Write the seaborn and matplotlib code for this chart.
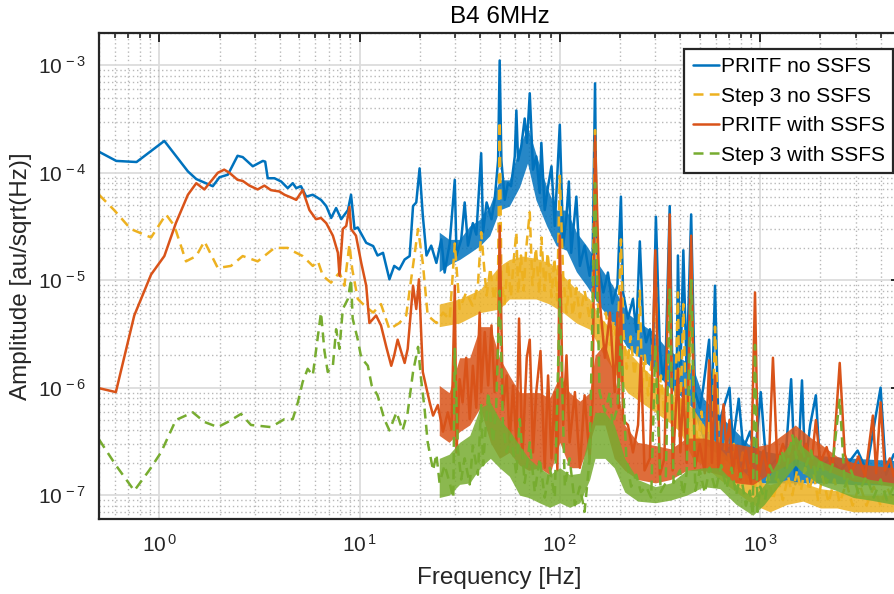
import numpy as np
import matplotlib
matplotlib.use("Agg")
import matplotlib.pyplot as plt
import matplotlib.ticker as mticker
import seaborn as sns

# values: frequency [Hz] and amplitude [au/sqrt(Hz)]
pritf_no_f = [0.5, 0.61, 0.77, 1.06, 1.39, 1.53, 1.85, 2.0, 2.2, 2.46, 2.61, 2.93, 3.29, 3.38, 3.48, 3.76,
              4.06, 4.38, 4.64, 4.83, 5.1, 5.42, 5.84, 6.42, 6.82, 7.22, 7.64, 8.1, 8.75, 9.07, 9.44, 9.8,
              10.8, 11.7, 12.3, 13.1, 14.1, 14.9, 15.8, 16.8, 17.8, 18.5, 19.2, 19.95, 20.7, 21.6, 22.8,
              24.2, 25.6, 26.6, 28.2, 29.9, 30.5, 32.2, 33.5, 34.8, 36.8, 38.3, 40.5, 41.4, 43.1, 45.6,
              47.3, 49.2, 50.1, 51.1, 53.1, 55.1, 57.1, 59.6, 60.7, 61.9, 64.2, 66.8, 68.6, 70.8, 73.5,
              76.3, 79.4, 80.9, 84.1, 87.4, 90.9, 94.4, 100, 104, 108, 111, 114, 121, 126, 133, 141, 146,
              150, 153, 165, 174, 183, 194, 202, 207, 219, 232, 241, 251, 261, 270, 282, 292, 302, 316,
              327, 338, 354, 366, 383, 389, 400, 414, 430, 453, 473, 501, 520, 557, 572, 596, 620, 657,
              704, 731, 783, 825, 891, 944, 1008, 1080, 1220, 1330, 1430, 1500, 1560, 1620, 1680, 1780,
              1900, 1995, 2240, 2510, 2820, 3070, 3400, 4000, 4260, 4650]
pritf_no_a = [1.57e-4, 1.29e-4, 1.26e-4, 1.98e-4, 1.03e-4, 8.75e-5, 7.5e-5, 9.1e-5, 9.6e-5, 1.44e-4,
              1.40e-4, 1.15e-4, 1.29e-4, 1.27e-4, 8.9e-5, 8.9e-5, 8.3e-5, 7.2e-5, 8.0e-5, 7.2e-5, 7.5e-5,
              6.0e-5, 6.25e-5, 5.6e-5, 4.9e-5, 3.8e-5, 4.7e-5, 3.7e-5, 4.5e-5, 6.25e-5, 3.0e-5, 3.1e-5,
              2.23e-5, 2.08e-5, 1.7e-5, 1.8e-5, 1.02e-5, 1.36e-5, 1.26e-5, 1.56e-5, 1.68e-5, 4.9e-5,
              5.3e-5, 1.1e-4, 4.0e-5, 1.7e-5, 2.1e-5, 1.45e-5, 2.4e-5, 1.18e-5, 2.2e-5, 8.6e-5, 1.7e-5,
              2.4e-5, 5.3e-5, 2.1e-5, 3.4e-5, 2.66e-5, 1.52e-4, 2.8e-5, 5.3e-5, 3.7e-5, 5.6e-5, 1.3e-4,
              1.11e-3, 1.3e-4, 5.6e-5, 8.0e-5, 7.5e-5, 1.42e-4, 3.8e-4, 1.3e-4, 1.75e-4, 3.2e-4, 1.9e-4,
              5.5e-4, 1.07e-4, 1.42e-4, 6.5e-5, 1.9e-4, 4.5e-5, 7.5e-5, 1.15e-4, 3.2e-5, 2.8e-4, 2.1e-5,
              4.0e-5, 8.3e-5, 1.8e-5, 6.0e-5, 1.36e-5, 2.1e-5, 1.1e-5, 1.8e-5, 6.8e-4, 1.56e-5, 7.7e-6,
              1.18e-5, 6.1e-6, 8.9e-6, 6.0e-5, 7.7e-6, 4.4e-6, 6.7e-6, 3.3e-6, 2.3e-5, 3.8e-6, 2.65e-6,
              3.5e-6, 2.17e-6, 3.9e-5, 2.3e-6, 1.2e-6, 1.9e-6, 4.9e-5, 1.05e-6, 8.5e-7, 1.7e-5, 1.3e-6,
              1.9e-5, 1.4e-6, 4.1e-5, 9.1e-7, 6.5e-7, 9.9e-7, 2.8e-6, 5.1e-7, 8.9e-6, 4.5e-7, 6.5e-7,
              1.0e-6, 3.1e-7, 7.9e-7, 2.7e-7, 3.9e-7, 2.3e-7, 9.1e-7, 1.7e-7, 2.2e-7, 1.8e-7, 1.2e-6,
              1.26e-7, 2.5e-7, 1.17e-6, 1.8e-7, 4.5e-7, 8.5e-7, 1.8e-7, 2.2e-7, 1.7e-7, 2.1e-7, 2.6e-7,
              1.7e-7, 1.0e-6, 1.55e-7, 2.4e-7]
# spread of the dense noise floor (lower / upper edge)
pritf_no_band_f = [25, 28, 31.6, 35.5, 40, 44.7, 50, 56, 63, 69, 76, 86, 96, 108, 121, 136, 158, 184, 216,
                   251, 293, 343, 398, 460, 523, 630, 760, 870, 1000, 1300, 1700, 2200, 3000, 4650]
pritf_no_lo = [1.2e-5, 1.4e-5, 1.56e-5, 1.8e-5, 2.1e-5, 2.6e-5, 4.5e-5, 4.9e-5, 7.4e-5, 1.23e-4, 5.6e-5,
               3.2e-5, 2.1e-5, 1.9e-5, 1.2e-5, 8.9e-6, 5.8e-6, 4e-6, 2.4e-6, 1.9e-6, 1.5e-6, 1.05e-6,
               8.5e-7, 6.5e-7, 3.1e-7, 2.3e-7, 1.8e-7, 1.45e-7, 1.3e-7, 1.3e-7, 1.3e-7, 1.3e-7, 1.25e-7,
               1.25e-7]
pritf_no_hi = [2.8e-5, 2.4e-5, 2.4e-5, 3.2e-5, 3.7e-5, 4.9e-5, 8.6e-5, 8.6e-5, 1.75e-4, 2.7e-4, 1.5e-4,
               7.4e-5, 4.5e-5, 4.5e-5, 2.8e-5, 2.1e-5, 1.36e-5, 8.9e-6, 5e-6, 4e-6, 3.3e-6, 2.3e-6, 1.9e-6,
               1.6e-6, 7.9e-7, 5.5e-7, 3.9e-7, 3e-7, 2.6e-7, 2.4e-7, 2.4e-7, 2.3e-7, 2.2e-7, 2.1e-7]

step3_no_f = [0.5, 0.595, 0.72, 0.91, 1.08, 1.19, 1.36, 1.53, 1.68, 1.96, 2.28, 2.61, 3.1, 3.76, 4.38,
              4.64, 5.2, 5.84, 6.2, 6.56, 7.2, 7.94, 8.4, 8.9, 9.2, 9.8, 10.6, 11.7, 12.8, 14.1, 15.8,
              17.1, 18.5, 19.6, 20.7, 21.9, 24.2, 26.1, 28.2, 29.9, 31.6, 34.1, 36.7, 39.0, 40.5, 43.1,
              45, 47, 49.2, 50.1, 51.1, 53, 55, 57, 59, 60.7, 62, 64, 66, 68, 70.8, 73, 76, 79, 81, 84,
              87, 91, 94, 97, 100, 104, 108, 112, 116, 121, 126, 133, 141, 146, 150, 155, 162, 170, 178,
              186, 194, 202, 208, 216, 226, 236, 246, 251, 258, 266, 276, 288, 302, 310, 320, 333, 345,
              354, 366, 378, 389, 398, 414, 425, 440, 453, 470, 490, 510, 535, 557, 575, 596, 620, 650,
              680, 710, 740, 780, 820, 860, 900, 944, 980, 1030, 1100, 1160, 1230, 1300, 1380, 1450,
              1530, 1600, 1680, 1760, 1850, 1950, 2050, 2200, 2350, 2500, 2700, 2900, 3150, 3400, 3700,
              4000, 4300, 4650]
step3_no_a = [6.25e-5, 4.5e-5, 3.0e-5, 2.5e-5, 4.1e-5, 3.2e-5, 1.5e-5, 1.68e-5, 2.3e-5, 1.3e-5, 1.36e-5,
              1.68e-5, 1.5e-5, 2.0e-5, 2.0e-5, 1.87e-5, 1.68e-5, 1.36e-5, 1.5e-5, 1.1e-5, 9.5e-6, 1.18e-5,
              8.9e-6, 2.15e-5, 1.26e-5, 6.7e-6, 5.8e-6, 5.0e-6, 6.0e-6, 3.5e-6, 4.0e-6, 4.7e-6, 1.36e-5,
              3.0e-5, 1.45e-5, 4.7e-6, 4.0e-6, 5.0e-6, 4.3e-6, 2.2e-5, 5.4e-6, 7.7e-6, 5.8e-6, 8.9e-6,
              2.8e-5, 7.2e-6, 1.3e-5, 6.5e-6, 1.2e-5, 3.0e-4, 1.0e-5, 6.0e-6, 1.5e-5, 7.0e-6, 1.6e-5,
              2.8e-5, 7.5e-6, 1.7e-5, 8.0e-6, 2.0e-5, 4.3e-5, 9.0e-6, 2.0e-5, 7.5e-6, 2.5e-5, 8.0e-6,
              1.8e-5, 7.0e-6, 1.6e-5, 6.5e-6, 9.4e-5, 1.1e-5, 5.0e-6, 1.0e-5, 4.7e-6, 8.5e-6, 4.5e-6,
              8.0e-6, 4.4e-6, 7.0e-6, 2.5e-4, 6.0e-6, 3.2e-6, 5.0e-6, 2.5e-6, 4.2e-6, 2.2e-6, 2.4e-5,
              3.3e-6, 1.5e-6, 3.0e-6, 1.3e-6, 2.5e-6, 8.0e-6, 1.0e-6, 2.0e-6, 8.5e-7, 1.8e-6, 1.0e-5,
              6.5e-7, 1.3e-6, 5.5e-7, 1.1e-6, 1.2e-5, 4.5e-7, 9.0e-7, 7.7e-6, 3.5e-7, 6.0e-6, 8.0e-7,
              3.2e-7, 1.0e-5, 6.5e-7, 2.8e-7, 6.0e-7, 2.5e-7, 5.0e-7, 2.2e-7, 3.7e-6, 4.2e-7, 1.8e-7,
              3.6e-7, 1.6e-7, 3.0e-7, 1.5e-7, 2.5e-7, 1.3e-7, 2.0e-7, 1.2e-7, 1.8e-7, 1.0e-7, 1.5e-7,
              9.0e-8, 1.4e-7, 9.0e-8, 1.5e-7, 1.0e-7, 1.7e-7, 1.1e-7, 1.8e-7, 1.1e-7, 1.6e-7, 9.0e-8,
              1.5e-7, 8.5e-8, 1.4e-7, 8.5e-8, 1.3e-7, 8.0e-8, 1.25e-7, 8.0e-8, 1.2e-7, 8.0e-8, 1.2e-7,
              8.5e-8]
step3_no_band_f = [25, 31.6, 40, 50, 56, 65, 76, 89, 104, 121, 141, 161, 187, 218, 255, 300, 350, 398, 460,
                   523, 630, 760, 920, 1122, 1360, 1640, 2000, 2420, 2930, 3550, 4650]
step3_no_lo = [3.7e-6, 4e-6, 5e-6, 5.4e-6, 6.7e-6, 6.7e-6, 6.7e-6, 6e-6, 5e-6, 4e-6, 3.5e-6, 2.2e-6, 1.4e-6,
               9e-7, 7.3e-7, 5.9e-7, 4.8e-7, 3.9e-7, 2.2e-7, 1.9e-7, 1.4e-7, 1.07e-7, 8.2e-8, 7e-8, 8.2e-8,
               8.8e-8, 7.6e-8, 7.6e-8, 7e-8, 7e-8, 7e-8]
step3_no_hi = [6e-6, 6.7e-6, 8.2e-6, 1.36e-5, 1.56e-5, 1.68e-5, 1.6e-5, 1.45e-5, 1.1e-5, 8.2e-6, 6.7e-6,
               4.4e-6, 3.3e-6, 2.2e-6, 1.6e-6, 1.2e-6, 9e-7, 7.9e-7, 6.5e-7, 4.5e-7, 2.7e-7, 1.9e-7,
               1.4e-7, 1.25e-7, 1.4e-7, 1.3e-7, 1.15e-7, 1.1e-7, 1e-7, 1e-7, 1e-7]

pritf_ssfs_f = [0.5, 0.607, 0.75, 0.91, 1.06, 1.21, 1.39, 1.53, 1.68, 1.96, 2.11, 2.24, 2.46, 2.61, 2.82,
                3.1, 3.35, 3.61, 3.98, 4.22, 4.64, 4.83, 5.2, 5.62, 6.06, 6.42, 6.82, 7.36, 7.8, 7.94, 8.25,
                8.58, 8.91, 9.07, 9.6, 10.2, 10.8, 11.2, 12.1, 12.8, 13.6, 14.4, 14.9, 15.5, 16.1, 16.8,
                17.4, 18.5, 19.2, 19.8, 20.7, 22.4, 23.3, 24.6, 26.1, 27.6, 28.8, 29.9, 30.5, 31.6, 32.7,
                34.1, 35.5, 36.8, 38.3, 39.8, 40.5, 42.2, 43.9, 45.6, 47.3, 49.2, 50.1, 52.0, 54.3, 56.2,
                58.4, 60.7, 62.6, 65.0, 68.4, 70.8, 73.5, 76.3, 80.1, 84.1, 87.4, 90.9, 94.4, 97.3, 100,
                104, 108, 112, 119, 126, 133, 141, 146, 150, 158, 168, 178, 188, 194, 197, 202, 207, 219,
                232, 246, 254, 265, 282, 300, 316, 333, 354, 366, 389, 400, 414, 430, 453, 473, 500, 530,
                557, 575, 596, 620, 657, 680, 704, 730, 760, 800, 850, 900, 944, 980, 1040, 1100, 1160,
                1220, 1300, 1400, 1500, 1600, 1700, 1800, 1900, 2000, 2150, 2300, 2500, 2650, 2850, 3100,
                3350, 3660, 3800, 4000, 4200, 4450, 4650]
pritf_ssfs_a = [9.9e-7, 9.1e-7, 4.7e-6, 1.13e-5, 1.68e-5, 3.4e-5, 6.25e-5, 8.0e-5, 7.0e-5, 1.0e-4, 1.07e-4,
                1.0e-4, 8.6e-5, 8.4e-5, 7.6e-5, 7.0e-5, 7.6e-5, 6.9e-5, 6.7e-5, 6.25e-5, 5.8e-5, 5.6e-5,
                6.9e-5, 4.5e-5, 3.7e-5, 3.8e-5, 3.4e-5, 2.6e-5, 1.8e-5, 1.1e-5, 3.0e-5, 3.2e-5, 4.8e-5,
                3.0e-5, 2.6e-5, 1.45e-5, 8.9e-6, 4.0e-6, 4.7e-6, 3.8e-6, 2.4e-6, 1.6e-6, 2.0e-6, 2.8e-6,
                2.2e-6, 1.7e-6, 2.3e-6, 8.9e-6, 5.4e-6, 1.02e-5, 1.4e-6, 7.3e-7, 5.5e-7, 6.9e-7, 3.9e-7,
                5.9e-7, 4.1e-7, 8.9e-6, 2.5e-7, 1.2e-6, 7.3e-7, 1.9e-6, 5.1e-7, 1.6e-6, 6.5e-7, 5.0e-6,
                9.1e-7, 3.3e-6, 1.05e-6, 3.8e-6, 9.1e-7, 2.3e-6, 3.2e-5, 6.5e-7, 1.3e-6, 3.1e-7, 1.05e-6,
                3.1e-7, 4.4e-6, 2.2e-7, 1.9e-6, 2.8e-6, 2.5e-7, 9.1e-7, 2.2e-6, 1.8e-7, 1.3e-6, 2.2e-7,
                9.1e-7, 1.7e-7, 2.6e-5, 4.5e-7, 2.0e-6, 3.1e-7, 9.1e-7, 1.8e-7, 8.5e-7, 2.2e-7, 8.0e-7,
                2.2e-4, 6.7e-6, 1.9e-6, 5.0e-6, 9.1e-7, 5.0e-6, 6.5e-7, 7.7e-6, 5.0e-7, 4.5e-7, 2.5e-7,
                4.5e-7, 1.9e-6, 1.7e-7, 2.2e-7, 1.9e-5, 1.55e-7, 2.2e-7, 4.1e-5, 1.7e-7, 1.5e-6, 2.5e-7,
                1.0e-6, 2.0e-7, 2.6e-5, 1.8e-7, 3.0e-7, 1.6e-7, 1.8e-6, 2.0e-7, 1.3e-6, 1.7e-7, 7.0e-7,
                2.6e-7, 5.0e-7, 1.6e-7, 2.8e-7, 1.4e-7, 2.6e-7, 1.3e-7, 7.7e-6, 1.4e-7, 2.6e-7, 1.5e-7,
                1.9e-6, 2.0e-7, 3.0e-7, 2.0e-7, 3.4e-7, 2.2e-7, 3.0e-7, 1.8e-7, 5.0e-7, 2.0e-7, 2.8e-7,
                1.7e-7, 1.7e-6, 2.4e-7, 1.6e-7, 2.3e-7, 1.5e-7, 5.5e-7, 1.6e-7, 7.3e-7, 1.7e-7, 2.2e-7,
                1.5e-7]
pritf_ssfs_band_f = [25, 28, 31.6, 35.5, 40, 45, 50, 56, 63, 70, 79, 89, 100, 112, 126, 141, 150, 168, 187,
                     211, 245, 300, 358, 430, 523, 630, 760, 920, 1122, 1360, 1500, 1800, 2000, 2420, 2930,
                     3550, 4650]
pritf_ssfs_lo = [3.6e-7, 3.1e-7, 3.9e-7, 4.5e-7, 6.5e-7, 3.1e-7, 2.2e-7, 2.5e-7, 1.9e-7, 1.7e-7, 1.8e-7,
                 1.55e-7, 3.1e-7, 1.8e-7, 1.8e-7, 3.1e-7, 4.5e-7, 4.5e-7, 2.2e-7, 1.7e-7, 1.4e-7, 1.3e-7,
                 1.4e-7, 1.7e-7, 1.7e-7, 1.55e-7, 1.3e-7, 1.25e-7, 1.6e-7, 1.9e-7, 2.2e-7, 1.9e-7, 1.8e-7,
                 1.55e-7, 1.35e-7, 1.3e-7, 1.2e-7]
pritf_ssfs_hi = [1.05e-6, 9e-7, 1.9e-6, 1.9e-6, 3.7e-6, 3.7e-6, 1.9e-6, 1.3e-6, 9e-7, 9e-7, 9e-7, 8e-7,
                 1.3e-6, 9e-7, 7.5e-7, 9e-7, 2e-6, 2.6e-6, 1.3e-6, 4.5e-7, 3.1e-7, 2.9e-7, 2.7e-7, 3.4e-7,
                 3.4e-7, 3.1e-7, 3e-7, 2.8e-7, 3e-7, 3.9e-7, 4.5e-7, 3.4e-7, 3e-7, 2.3e-7, 2e-7, 1.9e-7,
                 1.8e-7]

step3_ssfs_f = [0.5, 0.607, 0.75, 0.89, 1.02, 1.21, 1.47, 1.68, 1.96, 2.2, 2.56, 2.87, 3.61, 4.22, 4.64,
                4.92, 5.2, 5.51, 5.84, 6.42, 6.68, 6.94, 7.36, 7.64, 7.94, 8.25, 8.75, 9.07, 9.24, 9.8,
                10.2, 11.0, 11.5, 12.3, 13.3, 14.1, 15.3, 16.4, 17.4, 18.5, 19.6, 20.3, 21.1, 21.9, 23.3,
                24.2, 25.1, 26.6, 28.2, 29.4, 29.9, 31.0, 32.2, 33.5, 35.5, 36.8, 39.0, 40.5, 41.4, 43.9,
                46.4, 48.1, 50.1, 52.0, 54.3, 57.1, 60.7, 63.1, 66.8, 70.8, 75, 79.4, 84.1, 89.1, 94.4, 100,
                106, 112, 119, 126, 133, 141, 150, 158, 168, 178, 183, 194, 202, 215, 227, 241, 254, 270,
                286, 300, 319, 338, 354, 370, 398, 414, 430, 453, 475, 500, 530, 560, 600, 640, 680, 720,
                760, 800, 850, 890, 920, 944, 970, 1000, 1060, 1120, 1200, 1280, 1360, 1450, 1520, 1600,
                1700, 1800, 1900, 2000, 2150, 2300, 2500, 2650, 2850, 3100, 3400, 3700, 4000, 4300, 4650]
step3_ssfs_a = [3.3e-7, 1.9e-7, 1.1e-7, 1.7e-7, 2.5e-7, 5.0e-7, 5.9e-7, 4.8e-7, 4.3e-7, 4.8e-7, 5.7e-7,
                4.5e-7, 4.3e-7, 5.1e-7, 5.1e-7, 7.3e-7, 1.13e-6, 1.5e-6, 1.3e-6, 5.0e-6, 2.2e-6, 1.4e-6,
                1.6e-6, 3.5e-6, 2.3e-6, 5.4e-6, 6.7e-6, 1.02e-5, 4.4e-6, 2.8e-6, 1.9e-6, 1.6e-6, 1.05e-6,
                8.5e-7, 5.1e-7, 4.0e-7, 5.9e-7, 4.0e-7, 5.9e-7, 1.4e-6, 2.4e-6, 1.2e-6, 6.5e-7, 3.1e-7,
                1.7e-7, 2.4e-7, 1.3e-7, 1.9e-7, 1.3e-7, 9.4e-8, 2.3e-6, 2.7e-7, 1.4e-7, 2.2e-7, 1.26e-7,
                2.9e-7, 1.55e-7, 6.9e-7, 1.9e-7, 9.1e-7, 3.1e-7, 6.5e-7, 8.0e-6, 4.5e-7, 2.5e-7, 3.6e-7,
                1.55e-7, 5.1e-7, 1.3e-7, 3.1e-7, 1.07e-7, 2.2e-7, 9.5e-8, 1.8e-7, 9.5e-8, 6.7e-6, 1.2e-7,
                2.2e-7, 8.1e-8, 1.2e-7, 7.0e-8, 2.2e-7, 8.0e-5, 9.1e-7, 6.0e-7, 9.1e-7, 4.5e-7, 6.5e-7,
                3.0e-6, 2.2e-7, 1.2e-7, 1.55e-7, 1.07e-7, 1.2e-7, 9.5e-8, 2.5e-6, 1.07e-7, 1.3e-7, 8.2e-6,
                1.3e-7, 1.7e-7, 1.0e-7, 1.6e-7, 1.0e-5, 1.1e-7, 1.7e-7, 1.05e-7, 1.8e-7, 1.1e-7, 1.9e-7,
                1.15e-7, 1.8e-7, 1.0e-7, 1.6e-7, 8.0e-8, 1.1e-7, 6.5e-8, 2.5e-6, 7.0e-8, 1.2e-7, 9.0e-8,
                1.9e-7, 1.4e-7, 2.6e-7, 1.8e-7, 3.6e-7, 2.2e-7, 3.2e-7, 1.9e-7, 2.6e-7, 1.5e-7, 2.2e-7,
                1.3e-7, 1.9e-7, 7.9e-7, 1.2e-7, 1.7e-7, 1.05e-7, 1.5e-7, 9.5e-8, 1.4e-7, 9.0e-8, 1.2e-7]
step3_ssfs_band_f = [25, 28, 31.6, 35.5, 40, 45, 50, 56, 63, 70, 79, 89, 100, 112, 126, 141, 150, 168, 187,
                     211, 245, 300, 358, 430, 523, 630, 760, 920, 1050, 1230, 1500, 1640, 2000, 2420, 2930,
                     3550, 4650]
step3_ssfs_lo = [9.5e-8, 1.0e-7, 1.26e-7, 1.3e-7, 1.8e-7, 2.2e-7, 1.8e-7, 1.5e-7, 1.0e-7, 9.5e-8, 8.5e-8,
                 7.7e-8, 8.5e-8, 7.7e-8, 8.5e-8, 1.4e-7, 2.2e-7, 2.2e-7, 1.8e-7, 1.07e-7, 8.8e-8, 8.5e-8,
                 9e-8, 1.0e-7, 1.2e-7, 1.15e-7, 8.2e-8, 6.5e-8, 8.2e-8, 1.2e-7, 1.9e-7, 1.6e-7, 1.25e-7,
                 1.1e-7, 9.5e-8, 9e-8, 8.2e-8]
step3_ssfs_hi = [2.2e-7, 2.4e-7, 3.1e-7, 3.6e-7, 6.5e-7, 7.3e-7, 5.1e-7, 4e-7, 2.9e-7, 2.2e-7, 1.8e-7,
                 1.55e-7, 1.8e-7, 1.55e-7, 1.6e-7, 3.9e-7, 5.9e-7, 5.9e-7, 4.5e-7, 2.2e-7, 1.4e-7, 1.2e-7,
                 1.3e-7, 1.7e-7, 1.8e-7, 1.8e-7, 1.25e-7, 9.5e-8, 1.25e-7, 2.1e-7, 3.6e-7, 2.8e-7, 2.1e-7,
                 1.8e-7, 1.55e-7, 1.4e-7, 1.3e-7]

labels = ["PRITF no SSFS", "Step 3 no SSFS", "PRITF with SSFS", "Step 3 with SSFS"]
colors = ["#0072BD", "#EDB120", "#D95319", "#77AC30"]
dashed = [False, True, False, True]

sns.set_theme(style="white")
plt.rcParams['font.family'] = ['Liberation Sans', 'DejaVu Sans']
plt.rcParams['mathtext.fontset'] = 'custom'
plt.rcParams['mathtext.rm'] = 'Liberation Sans'
plt.rcParams['mathtext.it'] = 'Liberation Sans:italic'
plt.rcParams['mathtext.bf'] = 'Liberation Sans:bold'

ink = "#262626"
fig = plt.figure(figsize=(8.94, 5.94), dpi=100)
ax = fig.add_axes([99 / 894, 1 - 519 / 594, 801 / 894, 486 / 594])

series = [(pritf_no_f, pritf_no_a, pritf_no_band_f, pritf_no_lo, pritf_no_hi),
          (step3_no_f, step3_no_a, step3_no_band_f, step3_no_lo, step3_no_hi),
          (pritf_ssfs_f, pritf_ssfs_a, pritf_ssfs_band_f, pritf_ssfs_lo, pritf_ssfs_hi),
          (step3_ssfs_f, step3_ssfs_a, step3_ssfs_band_f, step3_ssfs_lo, step3_ssfs_hi)]
for i, ((f, a, bf, lo, hi), lab, col, ds) in enumerate(zip(series, labels, colors, dashed)):
    ax.fill_between(bf, lo, hi, color=col, lw=0, alpha=0.85, zorder=2 + 2 * i)
    kw = dict(linestyle=(0, (4, 2.5))) if ds else dict(linestyle="-")
    sns.lineplot(x=f, y=a, ax=ax, color=col, lw=1.8, sort=False, estimator=None,
                 label=lab, zorder=3 + 2 * i, **kw)

ax.set_xscale("log")
ax.set_yscale("log")
ax.set_xlim(0.5, 5000)
ax.set_ylim(6e-8, 2e-3)

ax.xaxis.set_major_locator(mticker.LogLocator(base=10, numticks=20))
ax.yaxis.set_major_locator(mticker.LogLocator(base=10, numticks=20))
ax.xaxis.set_minor_locator(mticker.LogLocator(base=10, subs=np.arange(2, 10), numticks=40))
ax.yaxis.set_minor_locator(mticker.LogLocator(base=10, subs=np.arange(2, 10), numticks=40))
dec = mticker.FuncFormatter(lambda v, p: r"$10^{\,%d}$" % int(round(np.log10(v))))
ax.xaxis.set_major_formatter(dec)
ax.yaxis.set_major_formatter(dec)
ax.xaxis.set_minor_formatter(mticker.NullFormatter())
ax.yaxis.set_minor_formatter(mticker.NullFormatter())

ax.set_axisbelow(True)
ax.grid(which="major", color="#dcdcdc", lw=1.3, ls="-")
ax.grid(which="minor", color="#b8b8b8", lw=1.0, ls=(0, (1, 2)))

for s in ax.spines.values():
    s.set_color(ink)
    s.set_linewidth(1.6)
    s.set_zorder(20)
ax.tick_params(which="both", direction="in", top=True, right=True, colors=ink, labelsize=15)
ax.tick_params(axis="y", pad=9)
ax.tick_params(axis="x", pad=11)
ax.tick_params(which="major", length=6.5, width=1.4)
ax.tick_params(which="minor", length=3.6, width=1.2)

ax.set_xlabel("Frequency [Hz]", fontsize=17.5, color=ink, labelpad=8)
ax.set_ylabel("Amplitude [au/sqrt(Hz)]", fontsize=17.5, color=ink, labelpad=4)
ax.set_title("B4 6MHz", fontsize=17.5, color="black", pad=7)

leg = ax.legend(loc="upper right", bbox_to_anchor=(893 / 894, 1 - 49 / 594),
                bbox_transform=fig.transFigure, borderaxespad=0, fontsize=15,
                handlelength=1.25, handletextpad=0.1, labelspacing=0.5,
                borderpad=0.4, fancybox=False, framealpha=1)
leg.set_zorder(30)
leg.get_frame().set_edgecolor(ink)
leg.get_frame().set_linewidth(1.6)
for t in leg.get_texts():
    t.set_color("black")

fig.savefig("out.png", dpi=100)
